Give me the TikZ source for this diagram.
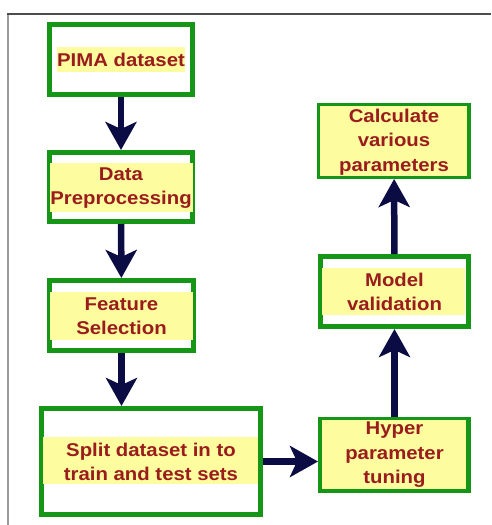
\documentclass[tikz,border=0pt]{standalone}
\usepackage{fontspec}
\newfontfamily\boxfont[FakeStretch=1.1]{Liberation Sans}
\usetikzlibrary{arrows.meta}
\definecolor{boxgreen}{RGB}{22,150,22}
\definecolor{hlyellow}{RGB}{253,253,160}
\definecolor{txtred}{RGB}{155,28,28}
\definecolor{arrownavy}{RGB}{12,12,68}
\tikzset{
  box/.style={draw=boxgreen, line width=5pt, fill=white, inner sep=0pt},
  hl/.style={fill=hlyellow},
  txt/.style={text=txtred, align=center, inner sep=0pt,
    font=\boxfont\bfseries\fontsize{18.5}{24.5}\selectfont},
  flow/.style={draw=arrownavy, line width=6.5pt,
    -{Stealth[length=28pt, width=31pt, inset=7pt]}},
}
\begin{document}
\begin{tikzpicture}[x=1pt,y=-1pt]
\useasboundingbox (0,0) rectangle (491,525);
\fill[white] (0,0) rectangle (491,525);
% frame
\draw[draw=gray!80, line width=1.5pt] (8,525) -- (8,14);
\draw[draw=black!70, line width=1.5pt] (7.25,14) -- (491,14);
% boxes
\node[box, minimum width=143pt, minimum height=70pt] (pima) at (121,59.5) {};
\node[box, minimum width=143pt, minimum height=69pt] (prep) at (121,187) {};
\node[box, minimum width=144pt, minimum height=70pt] (feat) at (121.5,315.5) {};
\node[box, minimum width=219pt, minimum height=106pt] (split) at (151,461.5) {};
\node[box, minimum width=148pt, minimum height=71pt] (hyper) at (394.5,455) {};
\node[box, minimum width=148pt, minimum height=70pt] (model) at (394.5,291.5) {};
\node[box, minimum width=149pt, minimum height=71pt] (calc) at (394,141) {};
% highlights
\fill[hl] (57,47) rectangle (185,72);
\fill[hl] (50,163) rectangle (193,212);
\fill[hl] (50,292) rectangle (193,340);
\fill[hl] (43,437) rectangle (258,484);
\fill[hl] (322,420) rectangle (466,489);
\fill[hl] (322,268) rectangle (465,315);
\fill[hl] (320,106) rectangle (467,176);
% texts
\node[txt] (pimat) at (121,60) {PIMA dataset};
\node[txt] (prept) at (121,188) {Data\\Preprocessing};
\node[txt] (featt) at (121.5,316) {Feature\\Selection};
\node[txt] (splitt) at (151,462) {Split dataset in to\\train and test sets};
\node[txt] (hypert) at (394.5,455) {Hyper\\parameter\\tuning};
\node[txt] (modelt) at (394.5,292) {Model\\validation};
\node[txt] (calct) at (394,142) {Calculate\\various\\parameters};
% connectors
\draw[flow] (pima) -- (prep);
\draw[flow] (prep) -- (feat);
\draw[flow] (feat.south) -- (feat.south |- split.north);
\draw[flow] (split.east) -- (split.east -| hyper.west);
\draw[flow] (hyper) -- (model);
\draw[flow] (model) -- (calc);
\end{tikzpicture}
\end{document}
